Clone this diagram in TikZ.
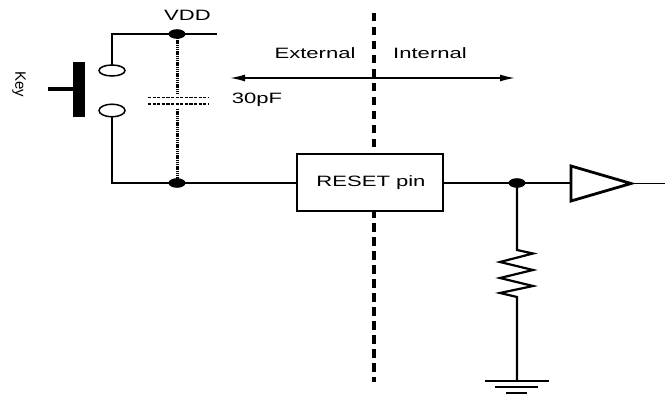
\documentclass[tikz,border=0pt]{standalone}
\usepackage{fontspec}
\setmainfont{Liberation Sans}
\usetikzlibrary{arrows.meta}
\begin{document}
\begin{tikzpicture}[x=1pt,y=-1pt,
  wire/.style={line width=1.5pt},
  thickwire/.style={line width=2.2pt},
  lbl/.style={font=\fontsize{15}{17}\selectfont, inner sep=0pt},
  junction/.style={fill=black, draw=none},
  capline/.style={line width=3pt, dash pattern=on 1.4pt off 0.8pt},
  plate/.style={line width=1.8pt, dash pattern=on 3.2pt off 1.4pt},
  sep/.style={line width=3.4pt, dash pattern=on 8.5pt off 5.5pt},
  rbox/.style={draw, line width=2.6pt, fill=white, minimum width=146pt, minimum height=57pt, inner sep=0pt},
]
\newcommand{\sx}[1]{\scalebox{1.47}[1]{#1}}
\useasboundingbox (0,0) rectangle (665,396);

% coordinates
\coordinate (tl) at (112,34);
\coordinate (vdd) at (177,34);
\coordinate (tr) at (217,34);
\coordinate (bl) at (112,183);
\coordinate (gnd1) at (177,183);
\coordinate (capt) at (177,38);
\coordinate (capa) at (177,95);
\coordinate (capb) at (177,109);
\coordinate (capc) at (177,180);
\coordinate (sw1) at (112,70.5);
\coordinate (sw2) at (112,110.5);
\coordinate (arL) at (230,78);
\coordinate (arR) at (515,78);
\coordinate (sepT) at (374,13);
\coordinate (sepB) at (374,382);
\coordinate (jn) at (517,183);
\coordinate (bufL) at (571,183);
\coordinate (bufT) at (571,166);
\coordinate (bufB) at (571,201);
\coordinate (bufO) at (631,183.5);
\coordinate (outR) at (665,183.5);
\coordinate (rTop) at (517,250);
\coordinate (rBot) at (517,297);
\coordinate (gnd) at (517,381);

% separator
\draw[sep] (sepT) -- (sepB);

% top wire
\draw[wire] (tr) -- (tl) -- (112,65);
\draw[wire] (112,117) -- (bl) -- (gnd1);

% switch contacts
\draw[wire, fill=white] (sw1) ellipse [x radius=13, y radius=5.5];
\draw[wire, fill=white] (sw2) ellipse [x radius=13, y radius=6.3];

% key
\fill (73,62) rectangle (85,117);
\draw[line width=3.8pt] (48,89) -- (73,89);
\node[lbl] (key) at (19,84) {\rotatebox{-90}{Key}};

% capacitor
\draw[capline] (capt) -- (capa);
\draw[capline] (capb) -- (capc);
\draw[plate] (148,97.5) -- (208,97.5);
\draw[plate] (148,104) -- (208,104);
\node[lbl] (cap) at (257,100) {\sx{30pF}};

% dots
\fill[junction] (vdd) ellipse [x radius=8.5, y radius=4.8];
\fill[junction] (gnd1) ellipse [x radius=8.5, y radius=4.8];
\node[lbl] (vddl) at (187.5,15) {\sx{VDD}};

% arrow
\draw[wire, {Latex[length=15pt,width=7pt]}-{Latex[length=15pt,width=7pt]}] (arL) -- (arR);
\node[lbl] (ext) at (315,53) {\sx{External}};
\node[lbl] (int) at (430,53) {\sx{Internal}};

% reset box
\draw[wire] (gnd1) -- (297,183);
\node[rbox] (box) at (370,182.5) {};
\node[lbl] (boxt) at (371,183) {\sx{RESET pin}};
\draw[wire] (box.east |- jn) -- (bufL);

% buffer
\draw[line width=2.8pt, line join=miter] (bufT) -- (bufB) -- (bufO) -- cycle;
\draw[wire] (bufO) -- (outR);

% resistor
\draw[thickwire] (jn) -- (rTop) -- (533,253.5) -- (500,262) -- (533,270) -- (500,278) -- (533,286) -- (500,293) -- (rBot) -- (gnd);
\fill[junction] (jn) ellipse [x radius=8.5, y radius=4.8];

% ground
\draw[wire] (485,381) -- (549,381);
\draw[wire] (495,387) -- (538,387);
\draw[wire] (506,393) -- (527,393);
\end{tikzpicture}
\end{document}
